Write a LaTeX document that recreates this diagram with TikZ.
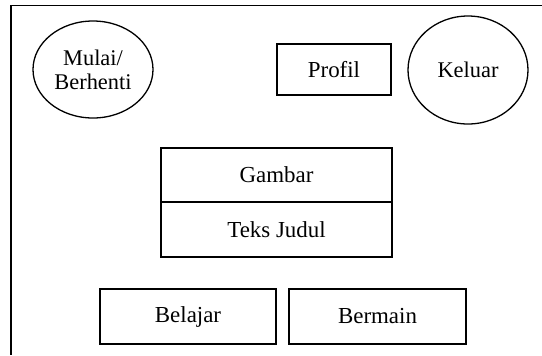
\documentclass[tikz,border=0pt]{standalone}
\usepackage{fontspec}
\setmainfont{Liberation Serif}
\usetikzlibrary{shapes.geometric}
\tikzset{
  kotak/.style={draw, line width=1.3bp, rectangle, inner sep=0pt, font=\fontsize{23}{26}\selectfont},
  bulat/.style={draw, line width=1.3bp, ellipse, inner sep=0pt, align=center, font=\fontsize{22.5}{25}\selectfont}
}
\begin{document}
\begin{tikzpicture}[x=1bp, y=-1bp]
        \useasboundingbox (0,0) rectangle (542,355);
        %Bingkai
            \draw [line width=1.6bp] (542,5.5)--(11,5.5)--(11,355);
        %Tombol bulat
        \node [bulat, minimum width=120bp, minimum height=97bp] (mulai) at (93,69.5) {Mulai/\\[-1bp]Berhenti};
        \node [bulat, minimum width=120bp, minimum height=108bp] (keluar) at (468,70) {Keluar};
        %Tombol kotak
        \node [kotak, minimum width=114bp, minimum height=51bp] (profil) at (334,69.5) {Profil};
        \node [kotak, minimum width=231bp, minimum height=54bp] (gambar) at (276.5,175) {Gambar};
        \node [kotak, minimum width=231bp, minimum height=55bp] (judul) at (276.5,229.5) {Teks Judul};
        \node [kotak, minimum width=176bp, minimum height=55bp] (belajar) at (188,316.5) {Belajar};
        \node [kotak, minimum width=177bp, minimum height=55bp] (bermain) at (377.5,316.5) {Bermain};
        \end{tikzpicture}
\end{document}
